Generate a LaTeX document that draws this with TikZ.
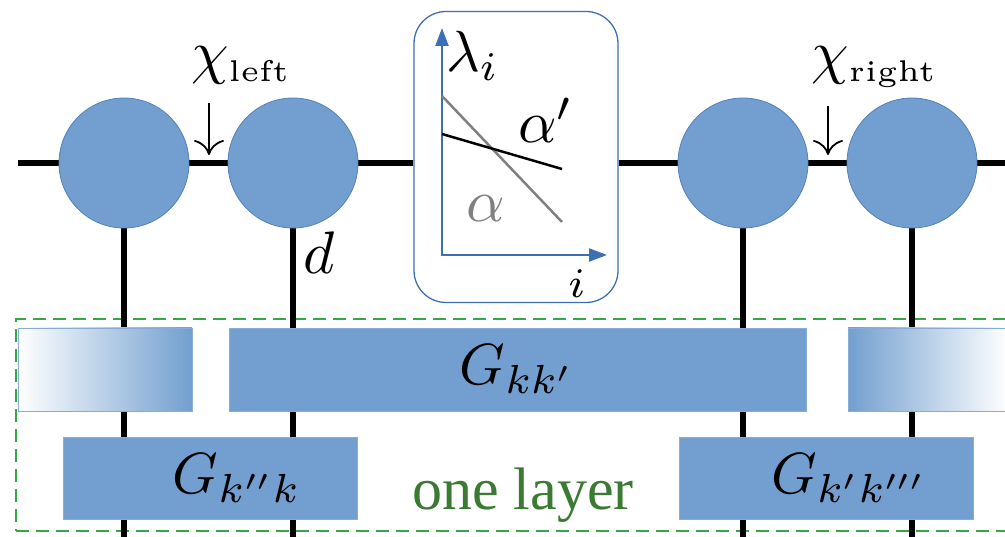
\documentclass[tikz,border=0pt]{standalone}
\usepackage{amsmath}
\usepackage{fontspec}
\newfontfamily\layerfont{Liberation Serif}
\usetikzlibrary{arrows.meta,backgrounds}
\definecolor{mpsblue}{HTML}{729FCF}
\definecolor{mpsedge}{HTML}{5380BA}
\definecolor{axisblue}{HTML}{3D6FB5}
\definecolor{layergreen}{HTML}{34A844}
\definecolor{labelgreen}{HTML}{3B7A33}

\begin{document}
\begin{tikzpicture}[x=1pt,y=-1pt,
    site/.style={circle,draw=mpsedge,line width=0.8pt,fill=mpsblue,minimum size=130pt,inner sep=0pt},
    gate/.style={draw=mpsblue!85!white,line width=0.6pt,fill=mpsblue,minimum height=83pt,inner sep=0pt},
    bond/.style={line width=6pt},
    pointer/.style={-{To[length=15pt,width=30pt]},line width=1.8pt},
    eq/.style={inner sep=0pt,font=\fontsize{10}{12}\selectfont,scale=6,transform shape},
    axis/.style={axisblue,line width=2.2pt,{Triangle[length=18pt,width=13pt]}-{Triangle[length=18pt,width=13pt]}},
    curve/.style={line width=2.5pt}]
  \useasboundingbox (0,0) rectangle (1005,537);
  \node[site] (s1) at (124,163) {};
  \node[site] (s2) at (293,163) {};
  \node[site] (s3) at (743,163) {};
  \node[site] (s4) at (912,163) {};
  \node[draw=axisblue,line width=1.3pt,rounded corners=32pt,fill=white,
        minimum width=204pt,minimum height=291pt] (plot) at (516,157) {};
  \coordinate (lend) at (18,163);
  \coordinate (rend) at (1010,163);
  \coordinate (floor) at (0,545);
  \coordinate (bondL) at (209,155);
  \coordinate (bondR) at (828,155);
  \node[eq,anchor=base west] (chiL) at (190,73) {$\chi_{\scriptscriptstyle\text{left}}$};
  \node[eq,anchor=base west] (chiR) at (810,73) {$\chi_{\scriptscriptstyle\text{right}}$};
  \draw[pointer,shorten <=17pt] (chiL.south -| bondL) -- (bondL);
  \draw[pointer,shorten <=17pt] (chiR.south -| bondR) -- (bondR);
  \node[eq,anchor=base west] (dim) at (302,274) {$d$};
  % spectrum inset
  \coordinate (o) at (442,255);
  \coordinate (ytip) at (442,28);
  \coordinate (xtip) at (607,255);
  \draw[axis] (ytip) -- (o) -- (xtip);
  \draw[curve,gray] (442,96) -- (562,222);
  \draw[curve] (442,134) -- (562,169);
  \node[eq,scale=5.8/6,anchor=base west] (lam) at (445,72) {$\lambda_i$};
  \node[eq,anchor=base west] (ap) at (517,143) {$\alpha'$};
  \node[eq,anchor=base west,gray] (a) at (465,222) {$\alpha$};
  \node[eq,anchor=base west] (iax) at (567,298) {$\scriptstyle i$};
  % gates
  \node[gate,minimum width=174pt,left color=white,right color=mpsblue] (gl) at (105,369.5) {};
  \node[gate,minimum width=577pt] (gkk) at (517.5,369.5) {};
  \node[gate,minimum width=160pt,left color=mpsblue,right color=white] (gr) at (928,369.5) {};
  \node[gate,minimum width=294pt,minimum height=82pt] (ga) at (210,478) {};
  \node[gate,minimum width=294pt,minimum height=82pt] (gb) at (826,478) {};
  \node[eq,scale=5.8/6] (gkkL) at (gkk) {$G_{kk'}$};
  \node[eq,scale=5.8/6] (gaL) at (237,478) {$G_{k''k}$};
  \node[eq,scale=5.8/6] (gbL) at (850,478) {$G_{k'k'''}$};
  \node[anchor=base,inner sep=0pt,text=labelgreen,font=\layerfont\fontsize{60}{60}\selectfont] (layername) at (523,510) {one layer};
  \begin{scope}[on background layer]
    \node[draw=layergreen,line width=1.8pt,dash pattern=on 13pt off 7pt,
          minimum width=999pt,minimum height=212pt] (layer) at (515.5,425) {};
    \draw[bond] (lend) -- (s1) -- (s2) -- (s2 -| plot.west);
    \draw[bond] (s3 -| plot.east) -- (s3) -- (s4) -- (rend);
    \foreach \s in {s1,s2,s3,s4}
      \draw[bond] (\s) -- (\s |- floor);
  \end{scope}
\end{tikzpicture}
\end{document}
